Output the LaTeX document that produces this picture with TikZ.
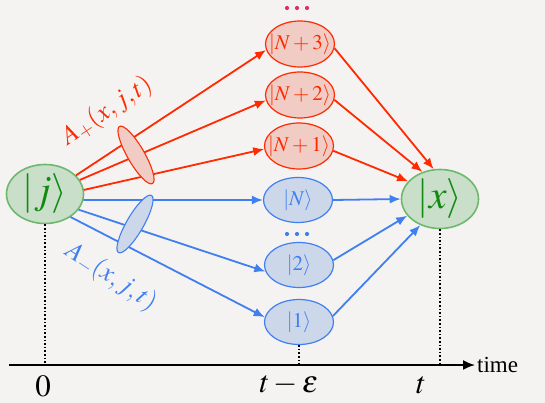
\documentclass[tikz,border=0pt]{standalone}
\usepackage{mathptmx}
\usepackage{fontspec}
\setmainfont{Liberation Serif}
\usetikzlibrary{shapes.geometric,arrows.meta}
\definecolor{bg}{HTML}{F4F3F2}
\definecolor{rline}{HTML}{FF2A00}
\definecolor{rfill}{HTML}{F0CCC4}
\definecolor{bline}{HTML}{3F7FF0}
\definecolor{bfill}{HTML}{CDD7EA}
\definecolor{gline}{HTML}{6DB86D}
\definecolor{gfill}{HTML}{C9DFC9}
\definecolor{gtext}{HTML}{128A12}
\definecolor{dotred}{HTML}{E0306A}
\tikzset{
  state/.style={ellipse, inner xsep=-8pt, inner ysep=-4pt, line width=1.2pt},
  rstate/.style={state, draw=rline, fill=rfill, text=rline, minimum width=69pt, minimum height=46pt, font=\fontsize{21}{24}\selectfont},
  bstate/.style={state, draw=bline, fill=bfill, text=bline, minimum width=69pt, minimum height=45pt, font=\fontsize{21}{24}\selectfont},
  gstate/.style={state, draw=gline, fill=gfill, text=gtext, minimum width=77pt, minimum height=59pt, line width=1.6pt, font=\fontsize{40}{44}\selectfont},
  rarr/.style={draw=rline, line width=1.8pt, -{Latex[length=11pt,width=9pt]}},
  barr/.style={draw=bline, line width=1.8pt, -{Latex[length=11pt,width=9pt]}},
  vdot/.style={draw=black, line width=1.6pt, dotted},
  amp/.style={ellipse, inner sep=0pt, line width=1.1pt, minimum width=66pt, minimum height=17pt},
  tick/.style={font=\fontsize{31}{34}\selectfont, text=black}
}
\begin{document}
\begin{tikzpicture}[x=1pt,y=-1pt]
\fill[bg] (0,0) rectangle (545,403);
\useasboundingbox (0,0) rectangle (545,403);

% nodes
\node[gstate] (j) at (45,194) {$|j\rangle$};
\node[gstate] (x) at (440,199) {$|x\rangle$};
\node[rstate] (n3) at (300,44) {$|N+3\rangle$};
\node[rstate] (n2) at (300,95) {$|N+2\rangle$};
\node[rstate] (n1) at (299,146) {$|N+1\rangle$};
\node[bstate] (nn) at (298,200) {$|N\rangle$};
\node[bstate] (s2) at (299,265) {$|2\rangle$};
\node[bstate] (s1) at (299,322) {$|1\rangle$};

% dots
\foreach \dx in {287,297,307} {
  \fill[dotred] (\dx,8) circle (2.1);
  \fill[bline] (\dx,234) circle (2.1);
}

% connectors from j
\draw[rarr] (j.31) -- (n3.190);
\draw[rarr] (j.22) -- (n2.189);
\draw[rarr] (j.6) -- (n1.185);
\draw[barr] (j.-9) -- (nn.180);
\draw[barr] (j.-25) -- (s2.191);
\draw[barr] (j.-42) -- (s1.172);

% connectors into x
\draw[rarr] (n3.-7) -- (x.102);
\draw[rarr] (n2.-8) -- (x.123);
\draw[rarr] (n1.-8) -- (x.151);
\draw[barr] (nn.0) -- (x.180);
\draw[barr] (s2.8) -- (x.207);
\draw[barr] (s1.10) -- (x.233);

% amplitude ellipses
\node[amp, draw=rline, fill=rfill, rotate=-60] (ap) at (136,155) {};
\node[amp, draw=bline, fill=bfill, rotate=60] (am) at (135,224) {};

% amplitude labels
\node[text=rline, rotate=34, font=\fontsize{26}{28}\selectfont] (lp) at (107,111) {$A_{+}(x,j,t)$};
\node[text=bline, rotate=-33, font=\fontsize{26}{28}\selectfont] (lm) at (111,277) {$A_{-}(x,j,t)$};

% time axis
\coordinate (a0) at (9,365);
\coordinate (a1) at (475,365);
\draw[line width=1.8pt, -{Latex[length=12pt,width=10pt]}] (a0) -- (a1);
\node[anchor=west, font=\fontsize{23}{26}\selectfont, inner sep=2pt] (tl) at (a1) {time};
\coordinate (p0) at (45,365);
\coordinate (pe) at (299,365);
\coordinate (pt) at (440,365);
\draw[vdot] (j.south) -- (p0);
\draw[vdot] (s1.south) -- (pe);
\draw[vdot] (x.south) -- (pt);
\node[tick] (l0) at (43,386) {$0$};
\node[tick] (le) at (289,385) {$t-\varepsilon$};
\node[tick] (lt) at (421,385) {$t$};
\end{tikzpicture}
\end{document}
